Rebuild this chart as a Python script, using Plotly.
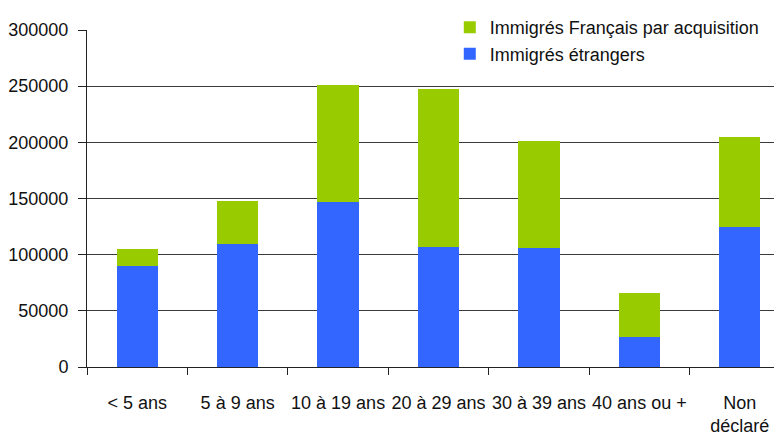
import plotly.graph_objects as go

categories = ["< 5 ans", "5 à 9 ans", "10 à 19 ans", "20 à 29 ans", "30 à 39 ans", "40 ans ou +", "Non<br>déclaré"]
etrangers = [90000, 109500, 147000, 107000, 106000, 26700, 124600]
francais_acq = [15000, 38500, 104000, 140500, 95200, 39200, 80100]
y_ticks = [0, 50000, 100000, 150000, 200000, 250000, 300000]

FONT = "Liberation Sans, Arial, sans-serif"

fig = go.Figure()
fig.add_trace(go.Bar(x=categories, y=etrangers, name="Immigrés étrangers",
                     marker=dict(color="#3366FF", line=dict(width=0)), width=0.41))
fig.add_trace(go.Bar(x=categories, y=francais_acq, name="Immigrés Français par acquisition",
                     marker=dict(color="#99CC00", line=dict(width=0)), width=0.41))

# page body has an 8px margin, so the figure is offset by 8px
fig.update_layout(
    barmode="stack",
    width=774, height=433,
    margin=dict(l=79, r=0, t=22, b=74, autoexpand=False),
    paper_bgcolor="white", plot_bgcolor="white",
    font=dict(family=FONT, size=18, color="#111111"),
    showlegend=True,
    legend=dict(traceorder="reversed", x=0.522, y=1.062, xanchor="left", yanchor="top",
                bgcolor="white", font=dict(size=18), tracegroupgap=0),
    xaxis=dict(range=[-0.5, 6.42], showline=True, linecolor="#222222", linewidth=1,
               ticks="outside", ticklen=7, tickcolor="#222222", tickson="boundaries",
               tickangle=0, automargin=False, ticklabelstandoff=19,
               showgrid=False, zeroline=False),
    yaxis=dict(range=[0, 300000], tickvals=y_ticks, tickformat="d", showline=True,
               linecolor="#222222", linewidth=1, ticks="outside", ticklen=8,
               tickcolor="#222222", automargin=False,
               showgrid=True, gridcolor="#3a3a3a", gridwidth=1, zeroline=False,
               ticklabelstandoff=6),
)

fig.write_html("out.html")
